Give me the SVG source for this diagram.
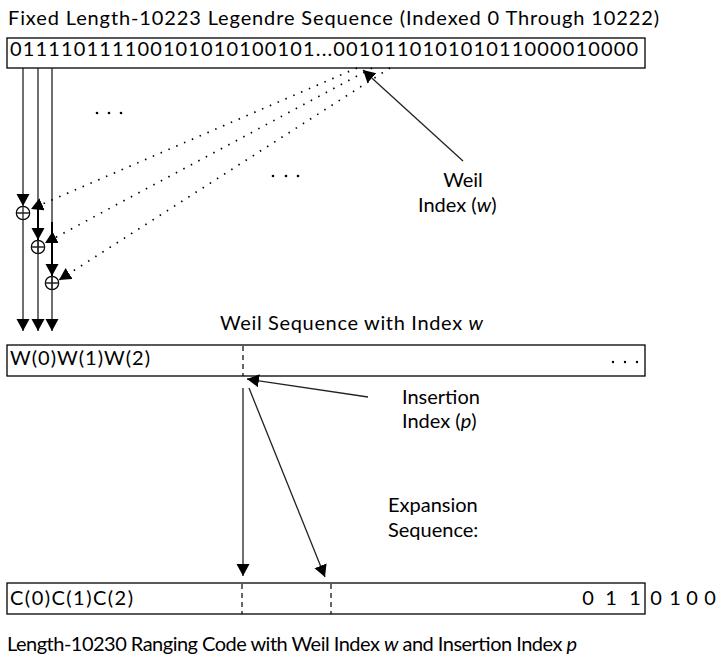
<svg xmlns="http://www.w3.org/2000/svg" width="721" height="657" viewBox="0 0 721 657">
<style>
  text { font-family: Lato, "Liberation Sans", sans-serif; font-size: 20px; fill: #000; }
  .box { fill: #fff; stroke: #000; stroke-width: 1.3; }
  .dash { stroke: #000; stroke-width: 1.2; stroke-dasharray: 5 4; fill: none; }
  .ln { stroke: #222; stroke-width: 1.3; fill: none; }
  .thk { stroke: #000; stroke-width: 2; fill: none; }
  .dot { stroke: #000; stroke-width: 1.7; stroke-dasharray: 1.5 7; fill: none; }
  .xor { fill: #fff; stroke: #000; stroke-width: 1.2; }
</style>
<defs>
  <marker id="ah" markerUnits="userSpaceOnUse" markerWidth="14" markerHeight="14" refX="12" refY="6.5" orient="auto">
    <path d="M0,0 L12,6.5 L0,13 z" fill="#000"/>
  </marker>
</defs>

<g id="title">
  <text x="8" y="25" textLength="651">Fixed Length-10223 Legendre Sequence (Indexed 0 Through 10222)</text>
</g>

<g id="legendre">
  <rect class="box" x="7" y="38" width="638" height="30"/>
  <text x="10" y="56" textLength="628">011110111100101010100101...001011010101011000010000</text>
</g>

<g id="xor1"><circle class="xor" cx="23" cy="213" r="6.7"/><path class="ln" d="M16.3,213 H29.7 M23,206.3 V219.7"/></g>
<g id="xor2"><circle class="xor" cx="38" cy="247" r="6.7"/><path class="ln" d="M31.3,247 H44.7 M38,240.3 V253.7"/></g>
<g id="xor3"><circle class="xor" cx="52" cy="283" r="6.7"/><path class="ln" d="M45.3,283 H58.7 M52,276.3 V289.7"/></g>

<g id="ellipsis1" fill="#000">
  <circle cx="97" cy="113" r="1.3"/><circle cx="109" cy="113" r="1.3"/><circle cx="121" cy="113" r="1.3"/>
</g>
<g id="ellipsis2" fill="#000">
  <circle cx="273" cy="176" r="1.3"/><circle cx="286" cy="176" r="1.3"/><circle cx="298" cy="176" r="1.3"/>
</g>

<g id="weil-label">
  <text x="463" y="187" text-anchor="middle">Weil</text>
  <text x="418" y="212">Index (<tspan font-style="italic">w</tspan>)</text>
</g>

<g id="weil-title">
  <text x="220" y="330" textLength="263">Weil Sequence with Index <tspan font-style="italic">w</tspan></text>
</g>

<g id="weil-seq">
  <rect class="box" x="7" y="345" width="638" height="31"/>
  <text x="10" y="365" textLength="140">W(0)W(1)W(2)</text>
  <line class="dash" x1="243" y1="346" x2="243" y2="376"/>
  <circle cx="613" cy="362" r="1.2"/><circle cx="625" cy="362" r="1.2"/><circle cx="637" cy="362" r="1.2"/>
</g>

<g id="insertion-label">
  <text x="402" y="404">Insertion</text>
  <text x="402" y="428">Index (<tspan font-style="italic">p</tspan>)</text>
</g>

<g id="expansion-label">
  <text x="388" y="512">Expansion</text>
  <text x="388" y="537">Sequence:</text>
</g>

<g id="ranging-code">
  <rect class="box" x="7" y="583" width="638" height="31"/>
  <text x="10" y="605" textLength="123">C(0)C(1)C(2)</text>
  <line class="dash" x1="242" y1="584" x2="242" y2="614"/>
  <line class="dash" x1="331" y1="584" x2="331" y2="614"/>
  <text y="605" text-anchor="middle"><tspan x="588">0</tspan><tspan x="611">1</tspan><tspan x="635">1</tspan></text>
  <text y="605" text-anchor="middle"><tspan x="656">0</tspan><tspan x="675">1</tspan><tspan x="692">0</tspan><tspan x="710">0</tspan></text>
</g>

<g id="caption">
  <text x="7" y="651" textLength="570">Length-10230 Ranging Code with Weil Index <tspan font-style="italic">w</tspan> and Insertion Index <tspan font-style="italic">p</tspan></text>
</g>

<g id="connectors">
  <line class="ln" x1="23" y1="68" x2="23" y2="206" marker-end="url(#ah)"/>
  <line class="ln" x1="23" y1="220" x2="23" y2="331" marker-end="url(#ah)"/>
  <line class="ln" x1="38" y1="68" x2="38" y2="331" marker-end="url(#ah)"/>
  <line class="thk" x1="38" y1="209" x2="38" y2="240" marker-end="url(#ah)"/>
  <line class="ln" x1="52" y1="68" x2="52" y2="331" marker-end="url(#ah)"/>
  <line class="thk" x1="52" y1="222" x2="52" y2="276" marker-end="url(#ah)"/>
  <line class="dot" x1="357" y1="68" x2="31" y2="209" marker-end="url(#ah)"/>
  <line class="dot" x1="372" y1="68" x2="45" y2="243" marker-end="url(#ah)"/>
  <line class="dot" x1="390" y1="68" x2="59" y2="280" marker-end="url(#ah)"/>
  <line class="ln" x1="463" y1="161" x2="363" y2="70" marker-end="url(#ah)"/>
  <line class="ln" x1="368" y1="397" x2="247" y2="379" marker-end="url(#ah)"/>
  <line class="ln" x1="243" y1="388" x2="243" y2="576" marker-end="url(#ah)"/>
  <line class="ln" x1="249" y1="388" x2="325" y2="577" marker-end="url(#ah)"/>
</g>
</svg>
